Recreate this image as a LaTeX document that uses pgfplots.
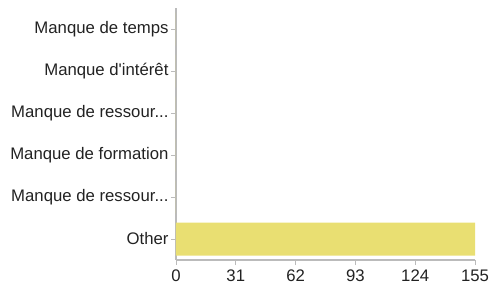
\documentclass[border=0pt]{standalone}
\usepackage{pgfplots}
\pgfplotsset{compat=1.18}
\usepackage{fontspec}
\setmainfont{Liberation Sans}[Ligatures=TeXOff]
\definecolor{baryellow}{HTML}{E9DF72}
\definecolor{axgray}{HTML}{BBBBBB}
\definecolor{txt}{HTML}{222222}
\newcommand{\tdots}{.\kern0pt.\kern0pt.}
\begin{document}
\begin{tikzpicture}
\begin{axis}[
  at={(0,0)}, anchor=south west,
  scale only axis,
  width=299bp, height=252bp,
  xmin=0, xmax=155,
  ymin=-0.5, ymax=5.5,
  y dir=reverse,
  axis x line*=bottom,
  axis y line*=left,
  axis line style={axgray, line width=1.2pt},
  xtick={0,31,62,93,124,155},
  ytick={0,1,2,3,4,5},
  yticklabels={{Manque de temps},{Manque d'intérêt},{Manque de ressour\tdots},{Manque de formation},{Manque de ressour\tdots},{Other}},
  tick style={axgray, line width=0.8pt},
  tick align=outside,
  major tick length=5bp,
  tick label style={font=\fontsize{16.8}{19}\selectfont, text=txt},
  /pgf/number format/assume math mode=true,
  xticklabel style={yshift=-1bp},
  yticklabel style={xshift=1bp},
  xbar,
  bar width=33bp,
  clip=false,
]
\addplot[fill=baryellow, draw=none] coordinates {(0,0) (0,1) (0,2) (0,3) (0,4) (155,5)};
\end{axis}
\pgfresetboundingbox
\path[use as bounding box] (-176bp,-29bp) rectangle (314bp,260bp);
\end{tikzpicture}
\end{document}
